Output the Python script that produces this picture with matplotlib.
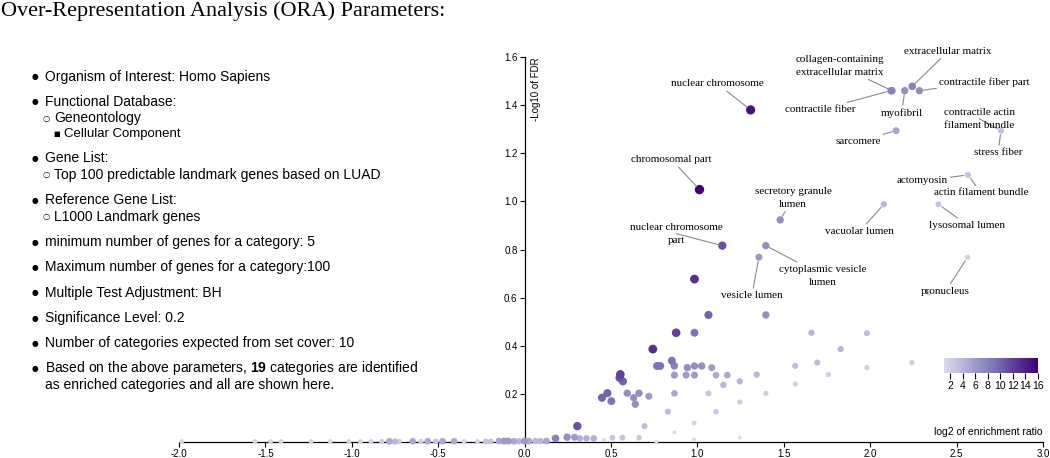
import numpy as np
import matplotlib
matplotlib.use("Agg")
import matplotlib.pyplot as plt
from matplotlib.colors import LinearSegmentedColormap, Normalize
from matplotlib.cm import ScalarMappable

plt.rcParams['axes.unicode_minus'] = False
plt.rcParams['mathtext.fontset'] = 'custom'
plt.rcParams['mathtext.rm'] = 'Liberation Sans'
plt.rcParams['mathtext.bf'] = 'Liberation Sans:bold'

# enriched (labelled) categories
names = ["nuclear chromosome", "chromosomal part", "nuclear chromosome\npart",
         "secretory granule\nlumen", "cytoplasmic vesicle\nlumen", "vesicle lumen",
         "collagen-containing\nextracellular matrix", "contractile fiber", "myofibril",
         "extracellular matrix", "contractile fiber part", "sarcomere",
         "contractile actin\nfilament bundle", "stress fiber", "actomyosin",
         "actin filament bundle", "vacuolar lumen", "lysosomal lumen", "pronucleus"]
sig_ratio = [1.308, 1.012, 1.144, 1.479, 1.396, 1.356, 2.125, 2.12, 2.200,
             2.243, 2.285, 2.150, 2.757, 2.757, 2.566, 2.566, 2.079, 2.395, 2.564]
sig_fdr = [1.380, 1.049, 0.816, 0.923, 0.816, 0.768, 1.460, 1.46, 1.460,
           1.478, 1.460, 1.294, 1.294, 1.294, 1.110, 1.110, 0.988, 0.988, 0.768]
sig_overlap = [15, 16, 11, 7, 7, 6, 8, 7, 7, 8, 7, 5.5, 3, 3, 3, 3, 4, 3, 2]

# other categories
ns_ratio = [0.983, 1.064, 1.396, 0.877, 0.983, 0.742, 1.660, 1.981, 1.829, 0.852,
            0.866, 0.766, 0.785, 0.942, 0.983, 1.025, 1.083, 0.867, 0.935, 0.983,
            1.108, 1.173, 1.343, 1.566, 1.693, 1.981, 2.241, 1.758, 1.245, 1.150,
            1.566, 1.064, 1.396, 1.245, 1.108, 0.829, 0.981, 0.867, 1.245, 0.981,
            0.762, 0.694, 0.662, 0.566, 0.508, 0.460, 0.400, 0.358, 0.319, 0.289,
            0.246, 0.179, 0.305, 0.554, 0.550, 0.569, 0.448, 0.479, 0.502, 0.594,
            0.631, 0.662, 0.641, 0.719, 0.867, 2.341,
            -1.985, -1.560, -1.470, -1.410, -1.235, -1.125, -1.017, -0.950, -0.889,
            -0.827, -0.783, -0.750, -0.725, -0.648, -0.600, -0.561, -0.514, -0.475,
            -0.408, -0.350, -0.273, -0.225, -0.196, -0.148, -0.119, -0.096, -0.062,
            -0.033, 0.000, 0.025, 0.063, 0.092, 0.127]
ns_fdr = [0.677, 0.528, 0.528, 0.454, 0.454, 0.386, 0.454, 0.452, 0.386, 0.338,
          0.317, 0.316, 0.316, 0.309, 0.316, 0.316, 0.309, 0.278, 0.278, 0.278,
          0.278, 0.278, 0.280, 0.316, 0.330, 0.309, 0.330, 0.280, 0.252, 0.237,
          0.241, 0.202, 0.202, 0.166, 0.126, 0.126, 0.079, 0.040, 0.018, 0.011,
          0.000, 0.066, 0.018, 0.018, 0.018, 0.008, 0.015, 0.015, 0.015, 0.020,
          0.020, 0.015, 0.066, 0.281, 0.267, 0.252, 0.184, 0.203, 0.170, 0.203,
          0.184, 0.203, 0.157, 0.190, 0.202, 0.618,
          0.002, 0.002, 0.002, 0.002, 0.002, 0.002, 0.002, 0.002, 0.002,
          0.002, 0.003, 0.002, 0.002, 0.003, 0.002, 0.003, 0.002, 0.003,
          0.003, 0.002, 0.002, 0.002, 0.002, 0.004, 0.004, 0.004, 0.003,
          0.003, 0.004, 0.004, 0.004, 0.004, 0.004]
ns_overlap = [13, 10, 7, 12, 9, 13, 4, 3.5, 4, 9,
              8, 9, 9, 7, 7, 7, 6, 6, 6, 6,
              5, 5, 4, 3.5, 3.5, 2, 2, 2, 4, 4,
              2, 3, 2, 2, 2.5, 3.5, 1.5, 1, 1, 1,
              1, 3.5, 2.5, 3, 3, 1, 4.5, 4.5, 4.5, 6,
              7, 8, 11, 12, 11, 10, 10, 10, 9, 7,
              7, 7, 7, 6, 5, 1.5,
              1.5, 1.5, 1.5, 1.5, 1.5, 1.5, 1.5, 1.5, 1.5,
              2, 5, 4, 2, 5, 2, 5, 3, 5,
              5, 1.5, 1.5, 3, 3, 5, 6, 6, 5,
              4, 6, 5, 4, 4, 5]

x_ticks = [-2.0, -1.5, -1.0, -0.5, 0.0, 0.5, 1.0, 1.5, 2.0, 2.5, 3.0]
y_ticks = [0.2, 0.4, 0.6, 0.8, 1.0, 1.2, 1.4, 1.6]
cbar_ticks = [2, 4, 6, 8, 10, 12, 14, 16]

# label offsets in pixels (dx, dy) from each point
label_offsets = [(-33, 26), (-28, 30), (-46, 12), (13, 22), (57, -30), (-7, -38),
                 (-52, 25), (-71, -19), (-3, -22), (36, 35), (65, 9), (-38, -11),
                 (-22, 12), (-3, -22), (-46, -6), (13, -18), (-24, -27), (29, -21),
                 (-22, -34)]

W, H = 1050, 458
fig = plt.figure(figsize=(W / 100, H / 100), dpi=100)


def fx(px):
    return px / W


def fy(py):
    return 1 - py / H


# left side text
fig.text(fx(1), fy(16), "Over-Representation Analysis (ORA) Parameters:",
         family="Liberation Serif", fontsize=16, va="baseline", ha="left")

sans = "Liberation Sans"
items = [
    (0, 76.7, "Organism of Interest: Homo Sapiens"),
    (0, 101.7, "Functional Database:"),
    (1, 118.3, "Geneontology"),
    (2, 134.0, "Cellular Component"),
    (0, 158.3, "Gene List:"),
    (1, 175.0, "Top 100 predictable landmark genes based on LUAD"),
    (0, 200.0, "Reference Gene List:"),
    (1, 216.7, "L1000 Landmark genes"),
    (0, 242.3, "minimum number of genes for a category: 5"),
    (0, 267.3, "Maximum number of genes for a category:100"),
    (0, 292.7, "Multiple Test Adjustment: BH"),
    (0, 318.3, "Significance Level: 0.2"),
    (0, 343.3, "Number of categories expected from set cover: 10"),
    (0, 368.3, r"Based on the above parameters, $\mathbf{19}$ categories are identified"),
    (-1, 385.0, "as enriched categories and all are shown here."),
]
bullets = {0: ("\u25CF", 35, 45, 5.5), 1: ("\u25CB", 46.5, 54.5, 6), 2: ("\u25A0", 56.5, 64.5, 5)}
for level, py, txt in items:
    if level == -1:
        fig.text(fx(45), fy(py), txt, family=sans, fontsize=10, va="center")
        continue
    sym, bx, tx, bs = bullets[level]
    fig.text(fx(bx), fy(py), sym, family="DejaVu Sans", fontsize=bs, va="center", ha="center")
    fig.text(fx(tx), fy(py), txt, family=sans, fontsize=9.5 if level == 2 else 10, va="center")

# volcano plot
ax = fig.add_axes([fx(179), fy(442), fx(1043) - fx(179), fy(57) - fy(442)])
ax.set_xlim(-2, 3)
ax.set_ylim(0, 1.6)
for s in ["top", "right"]:
    ax.spines[s].set_visible(False)
ax.spines["left"].set_position(("data", 0))
ax.spines["bottom"].set_position(("data", 0))
ax.spines["left"].set_linewidth(0.9)
ax.spines["bottom"].set_linewidth(0.9)
ax.set_xticks(x_ticks)
ax.set_xticklabels([f"{t:.1f}" for t in x_ticks])
ax.set_yticks(y_ticks)
ax.set_yticklabels([f"{t:.1f}" for t in y_ticks])
ax.tick_params(axis="both", labelsize=7, length=3.6, width=0.8, pad=1.5)
for lab in ax.get_xticklabels() + ax.get_yticklabels():
    lab.set_family(sans)

cmap = LinearSegmentedColormap.from_list("pur", plt.cm.Purples(np.linspace(0.25, 1.0, 64)))
norm = Normalize(vmin=1, vmax=16)

all_x = np.array(ns_ratio + sig_ratio)
all_y = np.array(ns_fdr + sig_fdr)
all_v = np.array(ns_overlap + sig_overlap, dtype=float)
order = np.argsort(all_v, kind="stable")
diam_px = 3.8 + 5.6 * np.sqrt((all_v - 1) / 15)
sizes = (diam_px * 0.72) ** 2
ax.scatter(all_x[order], all_y[order], s=sizes[order], c=all_v[order], cmap=cmap, norm=norm,
           edgecolors="none", clip_on=False, zorder=3)

for name, x, y, (dx, dy) in zip(names, sig_ratio, sig_fdr, label_offsets):
    ax.annotate(name, xy=(x, y), xytext=(dx, dy), textcoords="offset pixels",
                ha="center", va="center", fontsize=8, family="Liberation Serif",
                linespacing=1.55, zorder=4,
                arrowprops=dict(arrowstyle="-", color="#8a8a8a", lw=0.8,
                                shrinkA=0, shrinkB=3))

ax.annotate("-Log10 of FDR", xy=(0, 1.6), xytext=(6, 0), textcoords="offset pixels",
            rotation=90, ha="left", va="top", fontsize=7, family=sans)
ax.annotate("log2 of enrichment ratio", xy=(3, 0), xytext=(0, 5), textcoords="offset pixels",
            ha="right", va="bottom", fontsize=7.5, family=sans)

# colour legend
cax = fig.add_axes([fx(944), fy(373), fx(1038) - fx(944), fy(358) - fy(373)])
cb = fig.colorbar(ScalarMappable(norm=norm, cmap=cmap), cax=cax, orientation="horizontal")
cb.outline.set_visible(False)
cb.set_ticks(cbar_ticks)
cax.tick_params(labelsize=7.5, length=4, width=0.8, pad=1.5)
for lab in cax.get_xticklabels():
    lab.set_family(sans)

fig.savefig("out.png", dpi=100)
